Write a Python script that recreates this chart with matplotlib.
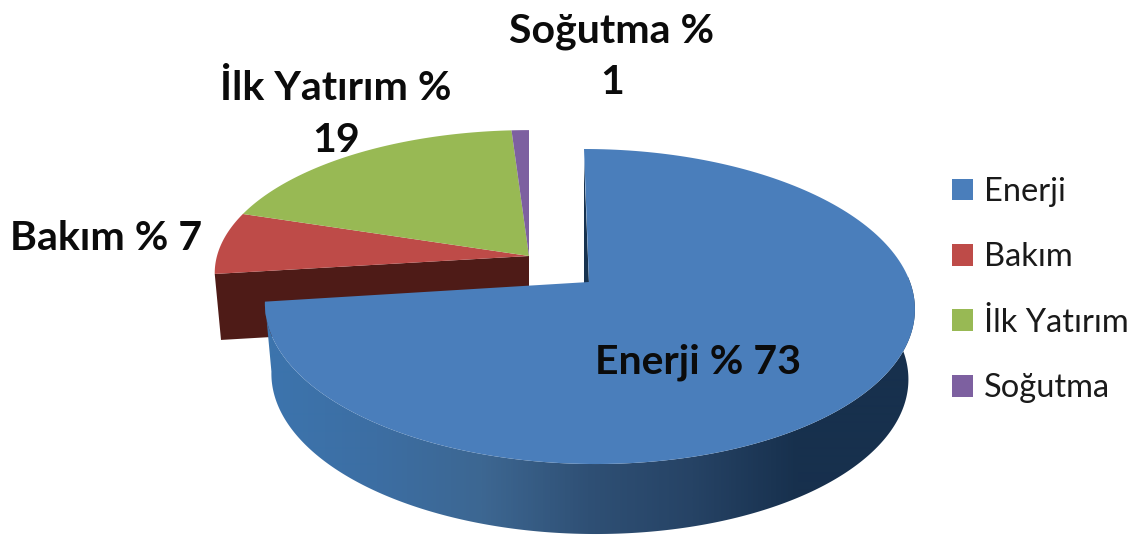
import numpy as np
import matplotlib
matplotlib.use("Agg")
import matplotlib.pyplot as plt
from matplotlib.patches import Polygon, Patch
from matplotlib.colors import LinearSegmentedColormap

categories = ["Enerji", "Bakım", "İlk Yatırım", "Soğutma"]
values = [73, 7, 19, 1]
colors = ["#4a7ebb", "#be4b48", "#98b954", "#7d60a0"]
data_labels = ["Enerji % 73", "Bakım % 7", "İlk Yatırım %\n19", "Soğutma %\n1"]

plt.rcParams["font.family"] = ["Lato", "DejaVu Sans"]

W, H = 1145, 538
fig = plt.figure(figsize=(W / 100, H / 100), dpi=100)
ax = fig.add_axes([0, 0, 1, 1])
ax.axis("off")


def project(angle_deg, radius, view):
    """Perspective view of a disc; angles run clockwise from twelve o'clock."""
    t = np.radians(angle_deg)
    u = radius * np.sin(t)
    v = radius * np.cos(t)
    w = 1 + view["k"] * v
    return (view["cx"] + view["b"] * (u + view["skew"] * v) / w,
            view["cy"] - view["a"] * v / w)


def face(a0, a1, view, n=200):
    ang = np.linspace(a0, a1, n)
    x, y = project(ang, 1.0, view)
    return np.column_stack([np.r_[view["cx"], x], np.r_[view["cy"], y]])


def lowered(x, y, view, squeeze=0.98):
    return view["cx"] + (x - view["cx"]) * squeeze, y + view["depth"]


main_view = dict(cx=589, cy=282, a=153.7, b=321, k=0.1556, skew=-0.018, depth=70)
pulled_view = dict(cx=529, cy=256, a=141, b=312, k=0.12, skew=0.0, depth=66)

edges = np.r_[0, np.cumsum(values)] * 360 / np.sum(values)

# Shaded cut wall of the pulled-out group, seen along its first radius
ox, oy = project(edges[1], 1.0, pulled_view)
bx, by = lowered(ox, oy, pulled_view)
ax_b, ay_b = lowered(pulled_view["cx"], pulled_view["cy"], pulled_view, 1.0)
ax.add_patch(Polygon([(pulled_view["cx"], pulled_view["cy"]), (ox, oy), (bx, by), (ax_b, ay_b)],
                     closed=True, fc="#4e1b17", ec="none", zorder=1))

# Top faces of the pulled-out slices
for i in (1, 2, 3):
    ax.add_patch(Polygon(face(edges[i], edges[i + 1], pulled_view), closed=True,
                         fc=colors[i], ec="none", zorder=2))

# Outer wall of the large slice: a horizontal gradient clipped to the wall outline
wall_cmap = LinearSegmentedColormap.from_list(
    "wall", ["#3c74ad", "#3c6ea3", "#3d6792", "#2f5075", "#264365", "#17304d", "#17304d"])
wall_angles = np.linspace(88, edges[1], 400)
tx, ty = project(wall_angles, 1.0, main_view)
lx, ly = lowered(tx, ty, main_view)
wall_outline = Polygon(np.column_stack([np.r_[tx, lx[::-1]], np.r_[ty, ly[::-1]]]),
                       closed=True, fc="none", ec="none", transform=ax.transData)
ax.add_patch(wall_outline)
shade_x = np.linspace(250, 930, 680)
shade = np.clip((shade_x - 270) / 635, 0, 1)
gradient = ax.imshow(shade[None, :], cmap=wall_cmap, aspect="auto", vmin=0, vmax=1,
                     extent=(shade_x[0], shade_x[-1], H, 0), interpolation="bilinear", zorder=3)
gradient.set_clip_path(wall_outline)

# Thin dark sliver of the inner wall beside the first radius
sx, sy = project(edges[0], 1.0, main_view)
ax.add_patch(Polygon([(sx, sy + 10), (main_view["cx"] - 5, main_view["cy"] + 2),
                      (main_view["cx"], main_view["cy"] + 2)],
                     closed=True, fc="#17324f", ec="none", zorder=3))

# Top face of the large slice
ax.add_patch(Polygon(face(edges[0], edges[1], main_view), closed=True,
                     fc=colors[0], ec="none", zorder=4))

ax.set_xlim(0, W)
ax.set_ylim(H, 0)

# Data labels
label_style = dict(fontweight="bold", fontsize=29.5, color="#0b0b0b", va="center", zorder=5)
ax.text(698, 362, data_labels[0], ha="center", **label_style)
ax.text(10, 238, data_labels[1], ha="left", **label_style)
ax.text(336, 115, data_labels[2], ha="center", linespacing=1.5, **label_style)
ax.text(612, 57, data_labels[3], ha="center", linespacing=1.5, **label_style)

# Legend
handles = [Patch(facecolor=c, edgecolor="none", label=n) for c, n in zip(colors, categories)]
ax.legend(handles=handles, loc="center left", bbox_to_anchor=(942 / W, 1 - 290 / H),
          frameon=False, fontsize=23.5, handlelength=0.644, handleheight=0.644,
          handletextpad=0.337, labelspacing=1.086, labelcolor="#1a1a1a", borderpad=0, borderaxespad=0.3)

fig.savefig("out.png", dpi=100, facecolor="white")
